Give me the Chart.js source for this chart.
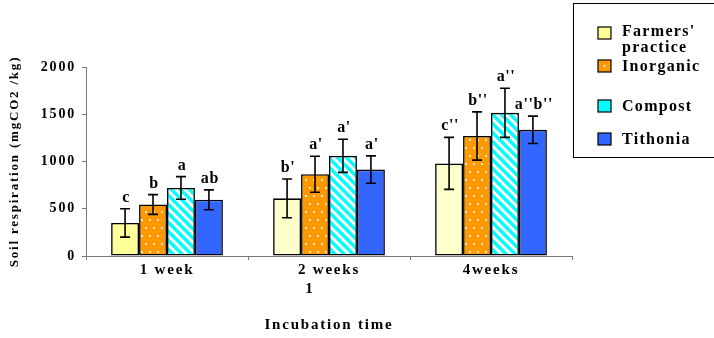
<!DOCTYPE html>
<html>
<head>
<meta charset="utf-8">
<script src="https://cdn.jsdelivr.net/npm/chart.js@4.4.1/dist/chart.umd.min.js"></script>
<style>
  html, body { margin: 0; padding: 0; background: #fff; }
  #wrap { width: 714px; height: 338px; position: relative; }
</style>
</head>
<body>
<div id="wrap"><canvas id="c" width="714" height="338"></canvas></div>
<script>
const categories = ['1 week', '2 weeks', '4weeks'];
const seriesNames = ["Farmers' practice", 'Inorganic', 'Compost', 'Tithonia'];
const farmers   = [350, 610, 980];
const inorganic = [545, 865, 1270];
const compost   = [720, 1060, 1515];
const tithonia  = [595, 915, 1335];
const farmersErr   = [150, 205, 275];
const inorganicErr = [105, 190, 255];
const compostErr   = [120, 175, 260];
const tithoniaErr  = [105, 145, 145];
const farmersLetters   = ['c', "b'", "c''"];
const inorganicLetters = ['b', "a'", "b''"];
const compostLetters   = ['a', "a'", "a''"];
const tithoniaLetters  = ['ab', "a'", "a''b''"];
const yTicks = [0, 500, 1000, 1500, 2000];

const SERIF = '"Liberation Serif", "Times New Roman", serif';
const LS = '1.8px';

function dotPattern() {
  const c = document.createElement('canvas');
  c.width = 8; c.height = 16;
  const g = c.getContext('2d');
  g.fillStyle = '#FF9900'; g.fillRect(0, 0, 8, 16);
  g.fillStyle = '#FFE8C0';
  g.fillRect(1, 3, 2, 2);
  g.fillRect(5, 11, 2, 2);
  return g.createPattern(c, 'repeat');
}
function stripePattern() {
  const s = 9;
  const c = document.createElement('canvas');
  c.width = s; c.height = s;
  const g = c.getContext('2d');
  g.fillStyle = '#FFFFFF'; g.fillRect(0, 0, s, s);
  g.strokeStyle = '#00FFFF'; g.lineWidth = 3.4;
  for (let k = -1; k <= 1; k++) {
    g.beginPath(); g.moveTo(k * s - 1, -1); g.lineTo(k * s + s + 1, s + 1); g.stroke();
  }
  return g.createPattern(c, 'repeat');
}
const pDots = dotPattern();
const pStripes = stripePattern();

const errs = [farmersErr, inorganicErr, compostErr, tithoniaErr];
const letters = [farmersLetters, inorganicLetters, compostLetters, tithoniaLetters];
const swatch = ['#FFFF99', '#FF9900', '#00FFFF', '#3366FF'];

const spacingPlugin = {
  id: 'spacing',
  beforeUpdate(chart) { chart.ctx.letterSpacing = LS; },
  beforeLayout(chart) { chart.ctx.letterSpacing = LS; },
  beforeDraw(chart) { chart.ctx.letterSpacing = LS; }
};

const extrasPlugin = {
  id: 'extras',
  afterDatasetsDraw(chart) {
    const ctx = chart.ctx;
    const y = chart.scales.y;
    ctx.save();
    chart.data.datasets.forEach((ds, di) => {
      const meta = chart.getDatasetMeta(di);
      meta.data.forEach((bar, i) => {
        const v = ds.data[i], e = errs[di][i];
        const yt = y.getPixelForValue(v + e);
        const yb = y.getPixelForValue(v - e);
        ctx.strokeStyle = '#000'; ctx.lineWidth = 1.6;
        ctx.beginPath();
        ctx.moveTo(bar.x, yt); ctx.lineTo(bar.x, yb);
        ctx.moveTo(bar.x - 5, yt); ctx.lineTo(bar.x + 5, yt);
        ctx.moveTo(bar.x - 5, yb); ctx.lineTo(bar.x + 5, yb);
        ctx.stroke();
        ctx.fillStyle = '#000';
        ctx.letterSpacing = '0.6px';
        ctx.font = 'bold 16px ' + SERIF;
        ctx.textAlign = 'center'; ctx.textBaseline = 'alphabetic';
        ctx.fillText(letters[di][i], bar.x + 1, yt - 7);
      });
    });
    // stray "1" under the gap of the second category label, as in the reference
    ctx.font = 'bold 15px ' + SERIF;
    ctx.textAlign = 'center'; ctx.textBaseline = 'middle';
    ctx.letterSpacing = '0px';
    ctx.fillStyle = '#000';
    ctx.fillText('1', 309, 289);

    // legend box
    ctx.strokeStyle = '#000'; ctx.lineWidth = 1;
    ctx.strokeRect(573.5, 3.5, 150, 154);
    const rows = [33, 66, 106, 139];
    ctx.letterSpacing = '1.3px';
    ctx.font = 'bold 16px ' + SERIF;
    ctx.textAlign = 'left'; ctx.textBaseline = 'middle';
    seriesNames.forEach((name, k) => {
      const cy = rows[k];
      ctx.fillStyle = swatch[k];
      ctx.fillRect(598, cy - 6, 13, 12);
      if (k === 1) { ctx.fillStyle = '#FFE8C0'; ctx.fillRect(603.5, cy - 1, 2, 2); }
      ctx.strokeStyle = '#000'; ctx.lineWidth = 1.2;
      ctx.strokeRect(598, cy - 6, 13, 12);
      ctx.fillStyle = '#000';
      if (k === 0) {
        const parts = name.split(' ');
        ctx.fillText(parts[0], 622, cy - 1);
        ctx.fillText(parts[1], 622, cy + 15);
      } else {
        ctx.fillText(name, 622, cy + 1);
      }
    });
    ctx.restore();
  }
};

new Chart(document.getElementById('c'), {
  type: 'bar',
  data: {
    labels: categories,
    datasets: [
      { label: seriesNames[0], data: farmers, backgroundColor: ['#FFFF99', '#FFFFCC', '#FFFFCC'] },
      { label: seriesNames[1], data: inorganic, backgroundColor: pDots },
      { label: seriesNames[2], data: compost, backgroundColor: pStripes },
      { label: seriesNames[3], data: tithonia, backgroundColor: '#3366FF' }
    ].map(d => Object.assign(d, { borderColor: '#000', borderWidth: 1.6, borderSkipped: false,
      barPercentage: 1.0, categoryPercentage: 0.69 }))
  },
  options: {
    responsive: false,
    animation: false,
    devicePixelRatio: 1,
    layout: { padding: { left: 0, right: 142, top: 67, bottom: 0 } },
    plugins: { legend: { display: false }, tooltip: { enabled: false } },
    scales: {
      x: {
        afterFit(s) { s.height = 82; },
        grid: { display: true, drawOnChartArea: false, drawTicks: true, tickLength: 4, offset: true, color: '#777' },
        border: { display: true, color: '#777', width: 1 },
        ticks: { color: '#000', font: { family: SERIF, size: 15, weight: 'bold' }, padding: 1 },
        title: { display: true, text: 'Incubation time', color: '#000',
          font: { family: SERIF, size: 15, weight: 'bold' }, padding: { top: 0, bottom: 4 } }
      },
      y: {
        min: 0, max: 2000,
        afterFit(s) { s.width = 86; },
        afterBuildTicks(s) { s.ticks = yTicks.map(v => ({ value: v })); },
        grid: { display: true, drawOnChartArea: false, drawTicks: true, tickLength: 4, color: '#777' },
        border: { display: true, color: '#777', width: 1 },
        ticks: { color: '#000', font: { family: SERIF, size: 14, weight: 'bold' }, padding: 6,
          callback: v => String(v) },
        title: { display: true, text: 'Soil respiration (mgCO2 /kg)', color: '#000',
          font: { family: SERIF, size: 13, weight: 'bold' }, padding: { top: 7, bottom: 0 } }
      }
    }
  },
  plugins: [spacingPlugin, extrasPlugin]
});
</script>
</body>
</html>
